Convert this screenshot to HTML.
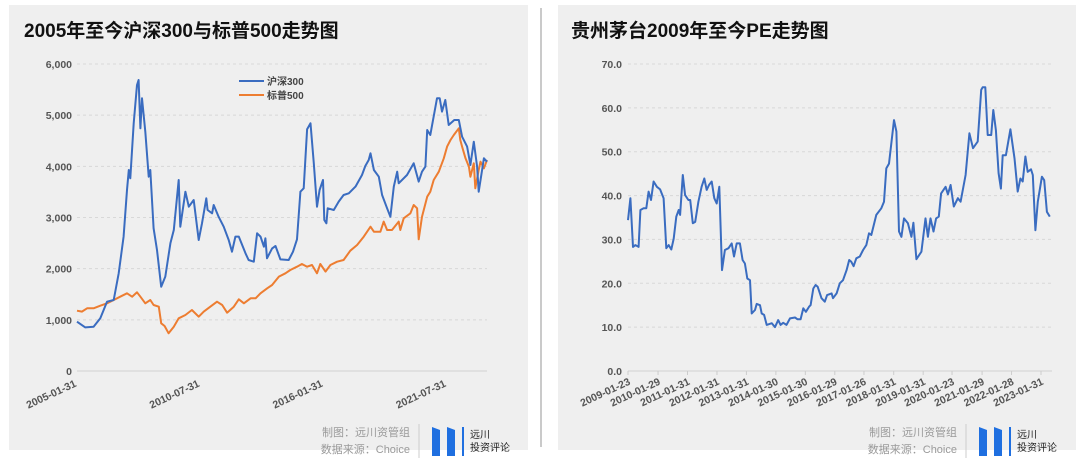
<!DOCTYPE html>
<html><head><meta charset="utf-8">
<style>
body{margin:0;width:1080px;height:466px;background:#fff;overflow:hidden;font-family:"Liberation Sans","Noto Sans CJK SC",sans-serif;}
svg{position:absolute;left:0;top:0}
</style></head>
<body>
<svg id="c" width="1080" height="466" xmlns="http://www.w3.org/2000/svg">
<rect x="9" y="5" width="519" height="445" fill="#efefef"/>
<rect x="558" y="5" width="518" height="445" fill="#efefef"/>
<line x1="541" y1="8" x2="541" y2="447" stroke="#b8b8b8" stroke-width="1.5"/>
<text x="24" y="37" font-size="19" font-weight="bold" fill="#111" font-family="Liberation Sans,'Noto Sans CJK SC',sans-serif">2005年至今沪深300与标普500走势图</text>
<text x="571" y="37" font-size="19" font-weight="bold" fill="#111" font-family="Liberation Sans,'Noto Sans CJK SC',sans-serif">贵州茅台2009年至今PE走势图</text>
<g id="L"></g><g id="R"></g>
<g font-family="Liberation Sans,'Noto Sans CJK SC',sans-serif" font-size="11" fill="#9a9a9a">
<text x="410" y="436" text-anchor="end">制图：远川资管组</text>
<text x="410" y="453" text-anchor="end">数据来源：Choice</text>
<text x="957" y="436" text-anchor="end">制图：远川资管组</text>
<text x="957" y="453" text-anchor="end">数据来源：Choice</text>
</g>
<g>
<line x1="419" y1="424" x2="419" y2="458" stroke="#ccc"/>
<polygon points="432,427 440,430 440,456 432,456" fill="#1f6fe0"/>
<polygon points="447,427 455,430 455,456 447,456" fill="#1f6fe0"/>
<rect x="462" y="427" width="2" height="29" fill="#1f6fe0"/>
<text x="470" y="438" font-size="10" fill="#222" font-family="'Noto Sans CJK SC',sans-serif">远川</text>
<text x="470" y="451" font-size="10" fill="#222" font-family="'Noto Sans CJK SC',sans-serif">投资评论</text>
</g>
<g>
<line x1="966" y1="424" x2="966" y2="458" stroke="#ccc"/>
<polygon points="979,427 987,430 987,456 979,456" fill="#1f6fe0"/>
<polygon points="994,427 1002,430 1002,456 994,456" fill="#1f6fe0"/>
<rect x="1009" y="427" width="2" height="29" fill="#1f6fe0"/>
<text x="1017" y="438" font-size="10" fill="#222" font-family="'Noto Sans CJK SC',sans-serif">远川</text>
<text x="1017" y="451" font-size="10" fill="#222" font-family="'Noto Sans CJK SC',sans-serif">投资评论</text>
</g>
</svg>
<script>
const hsDates=[2005.08,2005.45,2005.82,2006.12,2006.42,2006.72,2006.94,2007.16,2007.31,2007.39,2007.46,2007.61,2007.76,2007.83,2007.91,2007.98,2008.13,2008.28,2008.35,2008.50,2008.65,2008.84,2009.02,2009.25,2009.40,2009.62,2009.69,2009.92,2010.07,2010.29,2010.51,2010.66,2010.85,2010.91,2011.11,2011.18,2011.40,2011.63,2011.85,2012.00,2012.15,2012.30,2012.60,2012.74,2012.97,2013.12,2013.27,2013.42,2013.49,2013.56,2013.79,2013.94,2014.16,2014.53,2014.72,2014.90,2015.05,2015.20,2015.35,2015.50,2015.65,2015.79,2015.91,2016.06,2016.12,2016.21,2016.27,2016.54,2016.76,2016.98,2017.21,2017.51,2017.80,2017.95,2018.10,2018.18,2018.33,2018.55,2018.70,2018.92,2019.07,2019.22,2019.37,2019.44,2019.81,2020.11,2020.33,2020.48,2020.63,2020.71,2020.85,2021.15,2021.27,2021.37,2021.52,2021.67,2021.92,2022.12,2022.27,2022.49,2022.64,2022.79,2022.94,2023.01,2023.16,2023.24,2023.38];
const hsValues=[964,853,866,1029,1355,1388,1909,2626,3538,3929,3766,4841,5590,5688,4743,5329,4678,3798,3929,2788,2365,1648,1844,2495,2756,3733,2821,3505,3212,3342,2560,2886,3375,3147,3082,3244,3016,2821,2560,2332,2626,2626,2300,2169,2137,2691,2626,2430,2593,2202,2397,2443,2182,2169,2332,2573,3505,3570,4723,4841,4059,3212,3538,3733,2951,2886,3179,3147,3310,3440,3472,3603,3831,4007,4124,4254,3929,3798,3440,3179,3016,3603,3896,3668,3831,4059,3701,3896,3994,4710,4613,5329,5329,5069,5297,4808,4906,4906,4580,4385,4026,4482,3994,3505,3929,4157,4091];
const spDates=[2005.08,2005.30,2005.53,2005.82,2006.12,2006.42,2006.72,2007.01,2007.31,2007.54,2007.76,2007.91,2008.13,2008.35,2008.50,2008.73,2008.84,2008.99,2009.17,2009.40,2009.62,2009.92,2010.21,2010.51,2010.74,2011.03,2011.33,2011.56,2011.78,2012.08,2012.30,2012.53,2012.83,2013.05,2013.27,2013.57,2013.79,2014.09,2014.38,2014.60,2014.90,2015.12,2015.35,2015.57,2015.79,2015.94,2016.17,2016.39,2016.69,2016.98,2017.28,2017.58,2017.88,2018.18,2018.33,2018.62,2018.77,2018.92,2019.14,2019.44,2019.51,2019.66,2019.96,2020.11,2020.26,2020.33,2020.48,2020.71,2020.85,2021.00,2021.23,2021.45,2021.60,2021.75,2021.90,2022.12,2022.19,2022.27,2022.42,2022.57,2022.64,2022.79,2022.86,2023.01,2023.09,2023.24,2023.38];
const spValues=[1179,1160,1225,1225,1277,1323,1388,1453,1518,1453,1538,1453,1323,1388,1290,1257,932,880,736,866,1029,1095,1192,1062,1160,1257,1355,1290,1140,1257,1401,1323,1420,1420,1518,1616,1681,1844,1909,1974,2039,2091,2039,2072,1909,2091,1942,2072,2137,2169,2352,2463,2626,2821,2723,2723,2919,2756,2756,2919,2756,2984,3082,3244,3179,2573,3016,3407,3505,3733,3896,4157,4385,4515,4613,4743,4515,4385,4157,3994,3798,4059,3570,3929,4091,3961,4124];
const leftYTicks=[0,1000,2000,3000,4000,5000,6000];
const leftYLabels=["0","1,000","2,000","3,000","4,000","5,000","6,000"];
const leftXTicks=[2005.08,2010.58,2016.08,2021.58];
const leftXLabels=["2005-01-31","2010-07-31","2016-01-31","2021-07-31"];
const peDates=[2009.06,2009.14,2009.23,2009.31,2009.42,2009.48,2009.59,2009.68,2009.76,2009.84,2009.93,2010.04,2010.15,2010.27,2010.36,2010.44,2010.53,2010.61,2010.70,2010.78,2010.83,2010.92,2011.00,2011.11,2011.17,2011.26,2011.34,2011.45,2011.56,2011.65,2011.73,2011.81,2011.90,2011.99,2012.07,2012.16,2012.25,2012.35,2012.47,2012.58,2012.66,2012.75,2012.86,2012.95,2013.03,2013.11,2013.20,2013.26,2013.37,2013.43,2013.54,2013.60,2013.68,2013.77,2013.94,2014.05,2014.16,2014.24,2014.33,2014.44,2014.56,2014.73,2014.81,2014.92,2015.01,2015.10,2015.21,2015.26,2015.35,2015.43,2015.50,2015.63,2015.74,2015.82,2015.97,2016.02,2016.14,2016.25,2016.36,2016.48,2016.57,2016.64,2016.72,2016.81,2016.93,2017.04,2017.15,2017.24,2017.32,2017.49,2017.66,2017.75,2017.83,2017.92,2018.09,2018.17,2018.26,2018.34,2018.43,2018.56,2018.68,2018.75,2018.85,2019.02,2019.16,2019.24,2019.33,2019.43,2019.52,2019.61,2019.69,2019.84,2019.92,2020.01,2020.12,2020.26,2020.35,2020.52,2020.65,2020.77,2020.93,2021.05,2021.10,2021.19,2021.27,2021.39,2021.46,2021.55,2021.64,2021.72,2021.78,2021.89,2022.04,2022.18,2022.29,2022.38,2022.46,2022.55,2022.63,2022.74,2022.80,2022.89,2022.97,2023.11,2023.19,2023.28,2023.38];
const peValues=[34.4,39.4,28.3,28.7,28.3,36.7,37.1,37.1,40.9,39.0,43.2,42.0,41.4,39.4,28.0,28.7,27.7,30.2,35.2,36.7,35.6,44.7,40.1,39.0,39.0,33.7,34.0,38.6,42.0,43.9,41.3,42.4,43.2,39.4,38.2,42.0,23.0,27.6,28.0,29.1,26.1,29.1,29.1,25.3,24.5,21.1,20.7,13.1,13.9,15.3,15.0,13.1,12.8,10.5,10.9,10.0,11.6,10.5,11.0,10.5,12.0,12.2,11.8,11.8,14.3,13.5,14.7,15.0,18.8,19.6,19.2,16.6,15.8,17.3,17.7,16.6,17.7,20.0,20.7,23.0,25.3,24.9,23.9,25.7,26.1,27.6,28.7,31.4,31.0,35.6,37.1,38.6,46.2,47.3,57.2,54.6,31.8,30.6,34.8,33.7,30.6,33.8,25.5,27.2,34.8,30.6,34.8,31.8,34.8,35.2,40.5,42.0,40.3,42.4,37.5,39.4,38.6,44.7,54.2,50.8,52.3,64.1,64.7,64.7,53.8,53.8,59.5,54.9,45.1,41.6,49.2,49.2,55.1,48.5,40.9,43.9,43.2,48.9,45.4,46.0,44.7,32.1,38.6,44.3,43.5,36.3,35.2];
const rightYTicks=[0,10,20,30,40,50,60,70];
const rightXLabels=["2009-01-23","2010-01-29","2011-01-31","2012-01-31","2013-01-31","2014-01-30","2015-01-30","2016-01-29","2017-01-26","2018-01-31","2019-01-31","2020-01-23","2021-01-29","2022-01-28","2023-01-31"];
const rightXTicks=[2009.06,2010.08,2011.08,2012.08,2013.08,2014.08,2015.08,2016.08,2017.07,2018.08,2019.08,2020.06,2021.08,2022.08,2023.08];

const NS="http://www.w3.org/2000/svg";
function mk(p,tag,a,txt){const e=document.createElementNS(NS,tag);for(const k in a)e.setAttribute(k,a[k]);if(txt!==undefined)e.textContent=txt;p.appendChild(e);return e;}
const FONT="Liberation Sans,'Noto Sans CJK SC',sans-serif";

const lx=d=>77+(d-2005.08)*(410/18.3);
const ly=v=>371-v*(307/6000);
const L=document.getElementById('L');
leftYTicks.forEach((t,i)=>{
  const g=mk(L,'line',{x1:77,x2:487,y1:ly(t),y2:ly(t),stroke:t===0?'#d0d0d0':'#d8d8d8','stroke-dasharray':t===0?'':'3,3'});
  
  
  const tx=mk(L,'text',{x:72,y:ly(t)+4,'text-anchor':'end','font-size':10.5,'font-weight':'bold',fill:'#555','font-family':FONT},leftYLabels[i]);
  
  
});
leftXTicks.forEach((t,i)=>{
  const x=lx(t);
  const tx=mk(L,'text',{x:x,y:386,'text-anchor':'end','font-size':10.5,'font-weight':'bold',fill:'#555','font-family':FONT,transform:`rotate(-25 ${x} 386)`},leftXLabels[i]);
  
  
});
function line(p,ds,vs,fx,fy,col,name){
  const pts=ds.map((d,i)=>fx(d).toFixed(1)+','+fy(vs[i]).toFixed(1)).join(' ');
  const e=mk(p,'polyline',{points:pts,fill:'none',stroke:col,'stroke-width':2,'stroke-linejoin':'round'});
  
  
}
line(L,spDates,spValues,lx,ly,'#ed7d31','sp500-line');
line(L,hsDates,hsValues,lx,ly,'#3a6cc0','hs300-line');
const lg1=mk(L,'line',{x1:239,x2:264,y1:81,y2:81,stroke:'#3a6cc0','stroke-width':2});


const lt1=mk(L,'text',{x:267,y:85,'font-size':10,'font-weight':'bold',fill:'#444','font-family':FONT},'沪深300');


const lg2=mk(L,'line',{x1:239,x2:264,y1:95,y2:95,stroke:'#ed7d31','stroke-width':2});


const lt2=mk(L,'text',{x:267,y:99,'font-size':10,'font-weight':'bold',fill:'#444','font-family':FONT},'标普500');



const rx=d=>628+(d-2009.06)*(413/14.02);
const ry=v=>371-v*(307/70);
const R=document.getElementById('R');
rightYTicks.forEach(t=>{
  const g=mk(R,'line',{x1:628,x2:1052,y1:ry(t),y2:ry(t),stroke:t===0?'#d0d0d0':'#d8d8d8','stroke-dasharray':t===0?'':'3,3'});
  
  
  const tx=mk(R,'text',{x:622,y:ry(t)+4,'text-anchor':'end','font-size':10.5,'font-weight':'bold',fill:'#555','font-family':FONT},t.toFixed(1));
  
  
});
rightXTicks.forEach((t,i)=>{
  const x=rx(t);
  const tk=mk(R,'line',{x1:x,x2:x,y1:371,y2:375,stroke:'#ccc'});
  
  
  const tx=mk(R,'text',{x:x+3,y:384,'text-anchor':'end','font-size':10.5,'font-weight':'bold',fill:'#555','font-family':FONT,transform:`rotate(-25 ${x+3} 384)`},rightXLabels[i]);
  
  
});
line(R,peDates,peValues,rx,ry,'#3a6cc0','pe-line');
</script>
</body></html>
